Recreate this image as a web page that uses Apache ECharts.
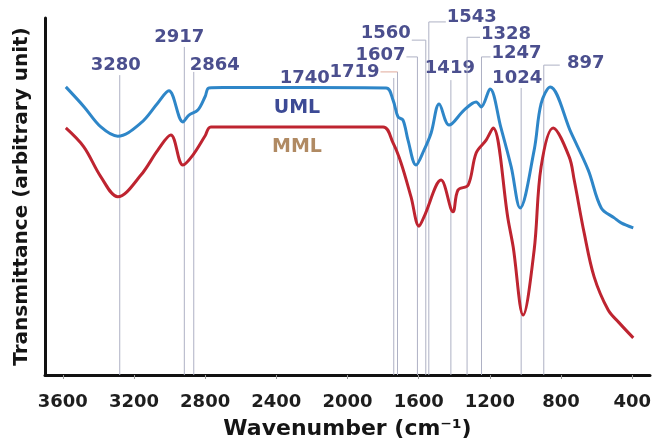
<!DOCTYPE html>
<html>
<head>
<meta charset="utf-8">
<script src="https://cdn.jsdelivr.net/npm/echarts@6/dist/echarts.min.js"></script>
<style>
  html, body { margin: 0; padding: 0; background: #fff; }
  #chart { width: 653px; height: 441px; }
</style>
</head>
<body>
<div id="chart"></div>
<script>
// FTIR spectra: wavenumber (cm-1) vs transmittance (arbitrary unit)
const xTicks = [3600, 3200, 2800, 2400, 2000, 1600, 1200, 800, 400];

const umlSpectrum = [
  [3583, 80.7], [3480, 75.1], [3386, 69.5], [3291, 66.9], [3161, 70.6],
  [3066, 76.2], [3004, 79.6], [2925, 70.9], [2891, 72.8], [2841, 74.2],
  [2800, 78.0], [2779, 80.4], [2700, 80.5], [2200, 80.5], [1783, 80.4],
  [1744, 77.0], [1716, 72.3], [1688, 71.4], [1660, 65.8], [1615, 58.8],
  [1570, 63.0], [1530, 67.8], [1485, 75.9], [1429, 70.0], [1345, 74.2],
  [1277, 76.5], [1249, 75.1], [1199, 80.1], [1139, 69.5], [1080, 58.3],
  [1030, 46.8], [951, 63.0], [912, 76.0], [861, 80.7], [743, 67.8],
  [647, 57.4], [574, 46.8], [501, 44.0], [462, 42.6], [394, 41.2]
];

const mmlSpectrum = [
  [3583, 69.2], [3482, 63.9], [3386, 55.5], [3291, 49.9], [3161, 56.0],
  [3066, 63.0], [2993, 67.2], [2925, 58.8], [2869, 61.6], [2800, 67.0],
  [2768, 69.5], [2200, 69.5], [1800, 69.5], [1744, 65.0], [1699, 59.4],
  [1643, 49.9], [1598, 41.7], [1570, 44.3], [1474, 54.6], [1407, 45.7],
  [1379, 51.8], [1322, 53.2], [1277, 62.2], [1221, 65.8], [1182, 69.2],
  [1097, 43.4], [1069, 35.9], [1013, 16.8], [951, 35.0], [912, 58.3],
  [844, 69.2], [754, 61.1], [726, 54.6], [670, 39.8], [614, 27.5],
  [535, 18.2], [473, 14.6], [394, 10.4]
];

const peakWavenumbers = [3280, 2917, 2864, 1740, 1719, 1607, 1560, 1543, 1419, 1328, 1247, 1024, 897];

// Annotation layout per peak: label centre offset (px) from the guide line,
// label height and guide-line top in y-axis units, leader = horizontal connector.
const peakLayout = [
  { dx: -4,  labelY: 86.8, top: 84.0, leader: false },
  { dx: -5,  labelY: 94.7, top: 91.9, leader: false },
  { dx: 21,  labelY: 86.8, top: 84.9, leader: false },
  { dx: -89, labelY: 83.2, top: 83.2, leader: false },
  { dx: -43, labelY: 84.9, top: 84.9, leader: true, leaderColor: '#e0a99a' },
  { dx: -37, labelY: 89.6, top: 89.1, leader: true },
  { dx: -40, labelY: 95.8, top: 93.8, leader: true },
  { dx: 43,  labelY: 100.3, top: 98.9, leader: true },
  { dx: -1,  labelY: 86.0, top: 82.6, leader: false },
  { dx: 39,  labelY: 95.5, top: 94.6, leader: true },
  { dx: 35,  labelY: 90.2, top: 89.1, leader: true },
  { dx: -4,  labelY: 83.2, top: 80.4, leader: false },
  { dx: 42,  labelY: 87.4, top: 86.8, leader: true }
];

const seriesNames = ['UML', 'MML'];
const seriesNamePos = [[2284, 74.8], [2284, 63.9]];

const LABEL_FONT = 'bold 18px "DejaVu Sans"';
const LABEL_COLOR = '#4b4f8e';
const GUIDE_COLOR = '#aeb1c4';

function renderPeak(params, api) {
  const i = params.dataIndex;
  const wn = api.value(0);
  const lay = peakLayout[i];
  const base = api.coord([wn, 0]);
  const x = base[0];
  const yBottom = base[1];
  const yTop = api.coord([wn, lay.top])[1];
  const yLab = api.coord([wn, lay.labelY])[1];
  const lx = x + lay.dx;
  const halfW = 25;
  const children = [];
  children.push({
    type: 'line',
    shape: { x1: x, y1: yBottom, x2: x, y2: yTop },
    style: { stroke: GUIDE_COLOR, lineWidth: 1 }
  });
  if (lay.leader) {
    const edge = lay.dx < 0 ? lx + halfW + 1 : lx - halfW - 1;
    children.push({
      type: 'line',
      shape: { x1: x, y1: yTop, x2: edge, y2: yTop },
      style: { stroke: lay.leaderColor || GUIDE_COLOR, lineWidth: 1 }
    });
  }
  children.push({
    type: 'text',
    style: {
      text: String(wn),
      x: lx,
      y: yLab,
      font: LABEL_FONT,
      fill: LABEL_COLOR,
      align: 'center',
      verticalAlign: 'middle',
      textAlign: 'center',
      textVerticalAlign: 'middle'
    }
  });
  return { type: 'group', children: children };
}

const chart = echarts.init(document.getElementById('chart'), null, { renderer: 'canvas' });

chart.setOption({
  backgroundColor: '#ffffff',
  animation: false,
  grid: { left: 45, right: 3, top: 18, bottom: 66, containLabel: false, outerBoundsMode: 'none' },
  xAxis: {
    type: 'value',
    inverse: true,
    min: 300,
    max: 3700,
    name: 'Wavenumber (cm⁻¹)',
    nameLocation: 'middle',
    nameGap: 43,
    nameTextStyle: { fontFamily: 'DejaVu Sans', fontWeight: 'bold', fontSize: 22, color: '#151515' },
    axisLine: { show: true, onZero: false, lineStyle: { color: '#111', width: 3 } },
    axisTick: { show: true, length: 4, customValues: xTicks, lineStyle: { color: '#999', width: 1 } },
    axisLabel: {
      customValues: xTicks,
      formatter: function (v) { return String(v); },
      margin: 18,
      fontFamily: 'DejaVu Sans',
      fontWeight: 'bold',
      fontSize: 18,
      color: '#1e1e1e'
    },
    splitLine: { show: false }
  },
  yAxis: {
    type: 'value',
    min: 0,
    max: 100,
    name: 'Transmittance (arbitrary unit)',
    nameLocation: 'middle',
    nameGap: 13,
    nameTextStyle: { fontFamily: 'DejaVu Sans', fontWeight: 'bold', fontSize: 20, color: '#151515' },
    axisLine: { show: true, onZero: false, lineStyle: { color: '#111', width: 3 } },
    axisTick: { show: false },
    axisLabel: { show: false },
    splitLine: { show: false }
  },
  series: [
    {
      type: 'custom',
      name: 'peaks',
      renderItem: renderPeak,
      data: peakWavenumbers.map(function (w) { return [w]; }),
      encode: { x: 0 },
      clip: false,
      z: 1,
      silent: true
    },
    {
      type: 'line',
      name: seriesNames[0],
      data: umlSpectrum,
      smooth: 0.35,
      symbol: 'none',
      lineStyle: { color: '#2e86c8', width: 3 },
      z: 3,
      markPoint: {
        symbol: 'circle',
        symbolSize: 0,
        label: {
          show: true,
          position: 'inside',
          formatter: seriesNames[0],
          fontFamily: 'DejaVu Sans',
          fontWeight: 'bold',
          fontSize: 19,
          color: '#3c4a95'
        },
        data: [{ coord: seriesNamePos[0] }]
      }
    },
    {
      type: 'line',
      name: seriesNames[1],
      data: mmlSpectrum,
      smooth: 0.35,
      symbol: 'none',
      lineStyle: { color: '#be2430', width: 3 },
      z: 3,
      markPoint: {
        symbol: 'circle',
        symbolSize: 0,
        label: {
          show: true,
          position: 'inside',
          formatter: seriesNames[1],
          fontFamily: 'DejaVu Sans',
          fontWeight: 'bold',
          fontSize: 19,
          color: '#b08a63'
        },
        data: [{ coord: seriesNamePos[1] }]
      }
    }
  ]
});
</script>
</body>
</html>
